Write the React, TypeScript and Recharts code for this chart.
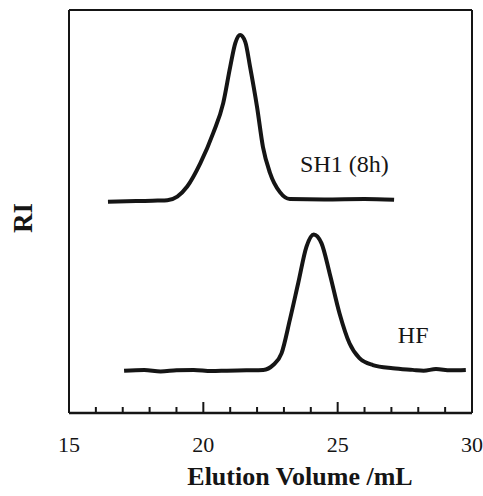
import React from "react";
import {
  LineChart,
  Line,
  XAxis,
  YAxis,
  Label,
  ReferenceDot,
  ReferenceLine,
} from "recharts";

// elution volume (mL) and RI response (arbitrary units)
const sh1Volume = [16.45, 17.5, 18.3, 18.66, 19.03, 19.4, 19.89, 20.37, 20.74, 21.0, 21.19, 21.37, 21.56, 21.74, 22.0, 22.22, 22.48, 22.85, 23.22, 24.5, 26.0, 27.1];
const sh1Signal = [52.4, 52.6, 52.7, 52.8, 53.7, 56.2, 62.0, 69.5, 76.9, 85.9, 91.8, 93.8, 92.1, 85.9, 75.9, 66.0, 59.6, 54.8, 53.1, 53.0, 53.1, 52.9];

const hfVolume = [17.05, 17.8, 18.41, 19.0, 19.64, 20.3, 20.88, 21.6, 22.23, 22.6, 22.91, 23.22, 23.53, 23.84, 24.11, 24.4, 24.7, 25.07, 25.44, 25.81, 26.31, 27.05, 27.79, 28.2, 28.66, 29.2, 29.77];
const hfSignal = [10.5, 10.7, 10.3, 10.6, 10.7, 10.4, 10.5, 10.6, 10.7, 11.9, 14.8, 23.1, 32.2, 41.3, 44.3, 42.1, 34.7, 24.7, 17.3, 13.6, 11.9, 11.1, 10.7, 10.5, 10.9, 10.6, 10.7];

const xTicks = [15, 16, 17, 18, 19, 20, 21, 22, 23, 24, 25, 26, 27, 28, 29, 30];
const xLabels = [15, 20, 25, 30];

const sh1Data = sh1Volume.map((v, i) => ({ v, ri: sh1Signal[i] }));
const hfData = hfVolume.map((v, i) => ({ v, ri: hfSignal[i] }));

const font = "Liberation Serif, Times New Roman, serif";
const ink = "#151515";

function renderTick(props: any) {
  const { x, y, payload } = props;
  const val = Number(payload.value);
  const major = val % 5 === 0;
  const showLine = val !== 15 && val !== 30;
  return (
    <g key={`t-${val}`}>
      {showLine && (
        <path d={`M${x},${y}L${x},${y - (major ? 11 : 6)}`} stroke={ink} strokeWidth={2} fill="none" />
      )}
      {xLabels.includes(val) && (
        <text x={x} y={y + 39} textAnchor="middle" fontFamily={font} fontSize={22} fill={ink}>
          {val}
        </text>
      )}
    </g>
  );
}

export default function App() {
  return (
    <div style={{ position: "absolute", left: 0, top: 0, width: 483, height: 496, background: "#fff" }}>
      <LineChart width={483} height={496} margin={{ top: 10, right: 11, bottom: 0, left: 0 }}>
        <XAxis
          dataKey="v"
          type="number"
          domain={[15, 30]}
          ticks={xTicks}
          interval={0}
          tick={renderTick}
          tickLine={false}
          tickSize={0}
          tickMargin={0}
          height={83}
          axisLine={{ stroke: ink, strokeWidth: 2.5 }}
          allowDataOverflow
        >
          <Label
            content={(p: any) => (
              <text
                x={300}
                y={p.viewBox.y + 72}
                textAnchor="middle"
                fontFamily={font}
                fontWeight="bold"
                fontSize={26}
                fill={ink}
              >
                Elution Volume /mL
              </text>
            )}
          />
        </XAxis>
        <YAxis
          type="number"
          domain={[0, 100]}
          width={69}
          tick={false}
          tickLine={false}
          axisLine={{ stroke: ink, strokeWidth: 2 }}
          allowDataOverflow
        >
          <Label
            content={(p: any) => {
              const cy = p.viewBox.y + 208;
              return (
                <text
                  x={32}
                  y={cy}
                  transform={`rotate(-90 32 ${cy})`}
                  textAnchor="middle"
                  fontFamily={font}
                  fontWeight="bold"
                  fontSize={27}
                  fill={ink}
                >
                  RI
                </text>
              );
            }}
          />
        </YAxis>
        {/* frame: top and right edges */}
        <ReferenceLine y={100} stroke={ink} strokeWidth={2} ifOverflow="visible" />
        <ReferenceLine x={30} stroke={ink} strokeWidth={2} ifOverflow="visible" />
        <Line
          data={sh1Data}
          dataKey="ri"
          type="monotone"
          stroke={ink}
          strokeWidth={4}
          dot={false}
          isAnimationActive={false}
        />
        <Line
          data={hfData}
          dataKey="ri"
          type="monotone"
          stroke={ink}
          strokeWidth={4}
          dot={false}
          isAnimationActive={false}
        />
        <ReferenceDot
          x={23.6}
          y={59.8}
          r={0}
          label={(p: any) => (
            <text x={p.viewBox.x} y={p.viewBox.y} fontFamily={font} fontSize={24} fill={ink}>
              SH1 (8h)
            </text>
          )}
        />
        <ReferenceDot
          x={27.24}
          y={17.4}
          r={0}
          label={(p: any) => (
            <text x={p.viewBox.x} y={p.viewBox.y} fontFamily={font} fontSize={24} fill={ink}>
              HF
            </text>
          )}
        />
      </LineChart>
    </div>
  );
}
